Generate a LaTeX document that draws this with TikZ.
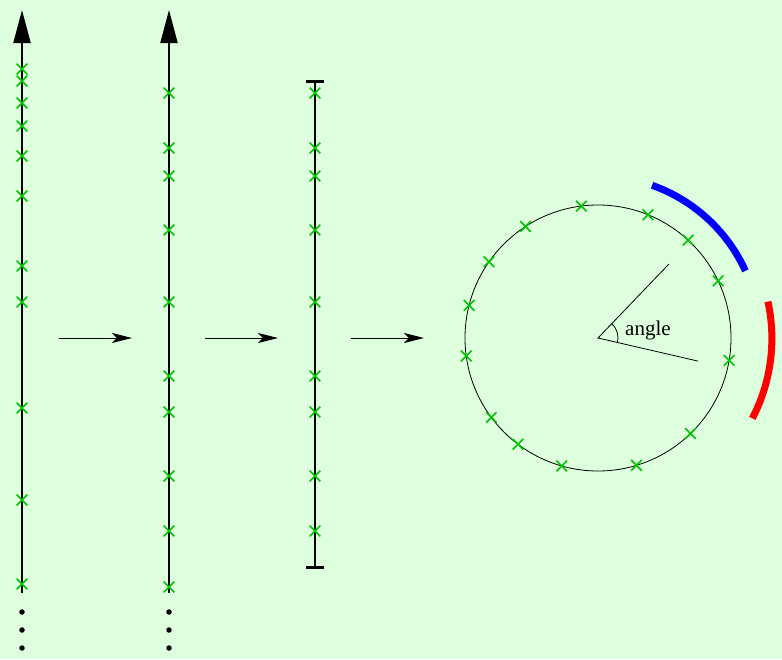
\documentclass[tikz,border=0pt]{standalone}
\usepackage{fontspec}
\setmainfont{Liberation Serif}
\usetikzlibrary{arrows.meta,shapes.misc}
\definecolor{bg}{RGB}{221,255,221}
\definecolor{xgreen}{RGB}{0,195,0}
\begin{document}
\begin{tikzpicture}[x=1pt,y=-1pt,
  xmark/.style={cross out,draw=xgreen,line width=1.6pt,minimum size=9pt,inner sep=0pt},
  axis/.style={line width=2pt,-{Triangle[length=33pt,width=17pt]}},
  stepline/.style={line width=1pt,-{Stealth[length=20pt,width=10pt,inset=5pt]}},
  bigdot/.style={circle,fill=black,inner sep=0pt,minimum size=5.5pt},
  capbar/.style={line width=3pt}]
\useasboundingbox[fill=bg] (0,0) rectangle (782,659);
% line 1
\coordinate (a1) at (22,593);
\coordinate (b1) at (22,10);
\draw[axis] (a1) -- (b1);
\foreach \y [count=\i] in {69,81,103,126,156,196,266,302,408,500,584}
  \node[xmark] (p\i) at (22,\y) {};
\foreach \y [count=\i] in {612,630,648}
  \node[bigdot] (d\i) at (22,\y) {};
% line 2
\coordinate (a2) at (169,593);
\coordinate (b2) at (169,10);
\draw[axis] (a2) -- (b2);
\foreach \y [count=\i] in {93,148,176,230,302,376,412,476,531,587}
  \node[xmark] (q\i) at (169,\y) {};
\foreach \y [count=\i] in {612,630,648}
  \node[bigdot] (e\i) at (169,\y) {};
% line 3
\coordinate (a3) at (315,567);
\coordinate (b3) at (315,81);
\coordinate (a3l) at (306,567);
\coordinate (a3r) at (324,567);
\coordinate (b3l) at (306,81);
\coordinate (b3r) at (324,81);
\draw[line width=2pt] (a3) -- (b3);
\draw[capbar] (a3l) -- (a3r);
\draw[capbar] (b3l) -- (b3r);
\foreach \y [count=\i] in {93,148,176,230,302,376,412,476,531}
  \node[xmark] (r\i) at (315,\y) {};
% horizontal arrows
\coordinate (h1s) at (59,338); \coordinate (h1e) at (132,338);
\coordinate (h2s) at (205,338); \coordinate (h2e) at (278,338);
\coordinate (h3s) at (351,338); \coordinate (h3e) at (424,338);
\draw[stepline] (h1s) -- (h1e);
\draw[stepline] (h2s) -- (h2e);
\draw[stepline] (h3s) -- (h3e);
% circle
\coordinate (c) at (598,338);
\draw[line width=0.8pt] (c) circle[radius=133pt];
\foreach \t [count=\i] in {97.2,123,145,165.8,187.8,216.7,233,254.2,286.8,314.1,350.3,25.4,47.4,67.9}
  \node[xmark] (s\i) at ([shift={(\t:133pt)}]c) {};
% angle
\coordinate (u) at ([shift={(46.2:102.5pt)}]c);
\coordinate (v) at ([shift={(-13:102.6pt)}]c);
\draw[line width=0.8pt] (u) -- (c) -- (v);
\draw[line width=0.8pt] ([shift={(-13:20pt)}]c) arc[start angle=-13,end angle=46.2,radius=20pt];
\node[anchor=base west,inner sep=0pt,font=\fontsize{21}{25}\selectfont] (lab) at (625,335) {angle};
% arcs
\draw[blue,line width=7pt] ([shift={(24.5:162pt)}]c) arc[start angle=24.5,end angle=70.5,radius=162pt];
\draw[red,line width=7pt] ([shift={(-27.5:174pt)}]c) arc[start angle=-27.5,end angle=12.3,radius=173pt];
\end{tikzpicture}
\end{document}
